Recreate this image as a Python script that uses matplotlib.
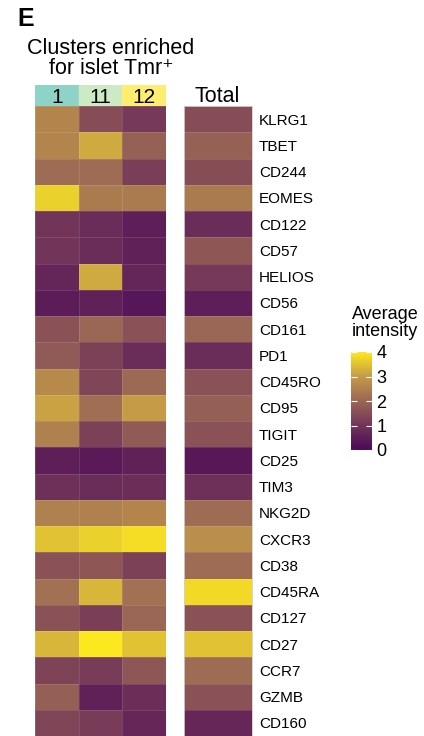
import numpy as np
import matplotlib
matplotlib.use("Agg")
from matplotlib import pyplot as plt
from matplotlib.colors import LinearSegmentedColormap

markers = ["KLRG1", "TBET", "CD244", "EOMES", "CD122", "CD57", "HELIOS", "CD56",
           "CD161", "PD1", "CD45RO", "CD95", "TIGIT", "CD25", "TIM3", "NKG2D",
           "CXCR3", "CD38", "CD45RA", "CD127", "CD27", "CCR7", "GZMB", "CD160"]
clusters = ["1", "11", "12"]
cluster_colors = ["#8dd3c7", "#ccebc5", "#ffed6f"]

c1 = [2.6, 2.6, 2.1, 3.7, 1.0, 1.0, 0.65, 0.45, 1.6, 1.75, 2.7, 3.1,
      2.5, 0.5, 0.9, 2.5, 3.5, 1.6, 2.2, 1.6, 3.35, 1.3, 1.85, 1.35]
c11 = [1.5, 3.2, 2.1, 2.4, 0.8, 0.8, 3.2, 0.55, 2.0, 1.25, 1.35, 2.15,
       1.25, 0.4, 0.8, 2.5, 3.7, 1.7, 3.35, 1.2, 4.0, 1.15, 0.55, 1.15]
c12 = [1.1, 1.9, 1.2, 2.4, 0.5, 0.55, 0.65, 0.3, 1.6, 0.8, 2.05, 3.0,
       1.75, 0.55, 0.85, 2.6, 3.85, 1.25, 2.2, 2.0, 3.5, 1.7, 0.85, 0.7]
total = [1.5, 1.9, 1.5, 2.4, 0.8, 1.7, 1.1, 0.5, 2.0, 0.8, 1.6, 1.85,
         1.6, 0.35, 0.9, 2.1, 2.75, 2.1, 3.8, 1.6, 3.5, 2.1, 1.6, 0.7]

cmap = LinearSegmentedColormap.from_list(
    "intensity", ["#4a0a58", "#723458", "#9a6655", "#c49a48", "#fce81e"])

plt.rcParams['font.family'] = ['Liberation Sans', 'DejaVu Sans']
fig = plt.figure(figsize=(4.24, 7.36), dpi=100)
W, H = 424, 736


def ax_px(x0, y0, x1, y1):
    return fig.add_axes([x0 / W, 1 - y1 / H, (x1 - x0) / W, (y1 - y0) / H])


n = len(markers)
main = np.array([c1, c11, c12]).T

ax = ax_px(35, 106, 166, 736)
ax.pcolormesh(main, cmap=cmap, vmin=0, vmax=4, edgecolor=(1, 1, 1, 0.12), linewidth=0.4)
ax.set_ylim(n, 0)
ax.axis("off")

axt = ax_px(184, 106, 252, 736)
mt = axt.pcolormesh(np.array(total)[:, None], cmap=cmap, vmin=0, vmax=4,
                    edgecolor=(1, 1, 1, 0.12), linewidth=0.4)
axt.set_ylim(n, 0)
axt.set_xticks([])
axt.set_yticks(np.arange(n) + 0.5)
axt.set_yticklabels(markers, fontsize=11)
axt.yaxis.tick_right()
axt.tick_params(axis="y", length=0, pad=5)
for s in axt.spines.values():
    s.set_color("#cfcfcf")
    s.set_linewidth(0.6)

# cluster header
axh = ax_px(35, 85, 166, 106)
for i, (lab, col) in enumerate(zip(clusters, cluster_colors)):
    axh.add_patch(plt.Rectangle((i, 0), 1, 1, color=col))
    axh.text(i + 0.5, 0.42, lab, ha="center", va="center", fontsize=15)
axh.set_xlim(0, 3)
axh.set_ylim(0, 1)
axh.axis("off")

fig.text(217 / W, 1 - 96 / H, "Total", ha="center", va="center", fontsize=15.5)
fig.text(111 / W, 1 - 48 / H, "Clusters enriched", ha="center", va="center",
         fontsize=15.5)
fig.text(111 / W, 1 - 68 / H, "for islet Tmr\u207a", ha="center", va="center",
         fontsize=15.5)
fig.text(17 / W, 1 - 19 / H, "E", ha="left", va="center", fontsize=18,
         fontweight="heavy")

cax = ax_px(351, 352, 372, 450)
cb = fig.colorbar(mt, cax=cax, ticks=[0, 1, 2, 3, 4])
cb.outline.set_visible(False)
cb.ax.tick_params(labelsize=13, length=4, width=0.8, color="white", direction="in", pad=3)
cb.ax.tick_params(axis="y", which="major", right=True, left=True)
fig.text(385 / W, 1 - 323 / H, "Average\nintensity", ha="center", va="center",
         fontsize=13, linespacing=1.0)

fig.savefig("out.png", dpi=100)
